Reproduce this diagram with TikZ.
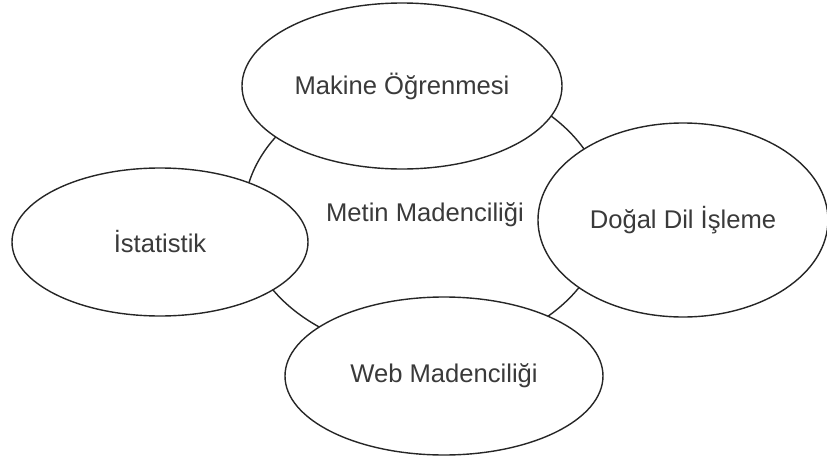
\documentclass[tikz,border=0pt]{standalone}
\usepackage{fontspec}
\setmainfont{Liberation Sans}
\usepackage{xcolor}
\usepackage{tikz}
\usetikzlibrary{shapes.geometric}
\definecolor{areaLine}{HTML}{262626}
\definecolor{areaText}{HTML}{3A3A3A}
\tikzset{
  area/.style={ellipse,draw=areaLine,fill=white,line width=0.7pt,inner sep=0pt,
    text=areaText,font=\fontsize{12.8}{15}\selectfont},
  corearea/.style={area,minimum width=181pt,minimum height=138pt}
}

\begin{document}
\begin{tikzpicture}[x=0.5pt,y=-0.5pt]
      \useasboundingbox (0,0) rectangle (827,461);

      % central field first, the others lie over it
      \node[corearea] (mining) at (425,215) {Metin Madenciliği};

      \node[area, minimum width=160pt, minimum height=83pt] (ml) at (402,86) {Makine Öğrenmesi};
      \node[area, minimum width=148pt, minimum height=74pt] (stats) at (160,242) {İstatistik};
      \node[area, minimum width=145pt, minimum height=97pt] (nlp) at (683,220) {Doğal Dil İşleme};
      \node[area, minimum width=159pt, minimum height=79pt] (web) at (444,376) {Web Madenciliği};
    \end{tikzpicture}
\end{document}
